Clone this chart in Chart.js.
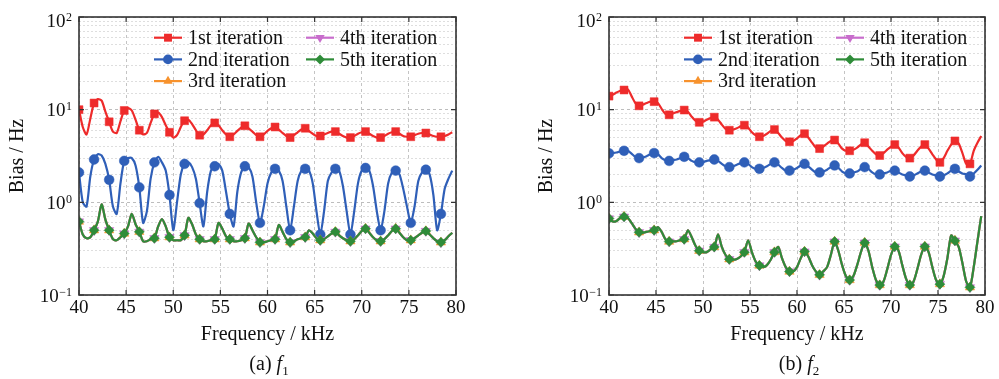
<!DOCTYPE html>
<html>
<head>
<meta charset="utf-8">
<title>Bias vs frequency, f1 and f2</title>
<script src="https://cdn.jsdelivr.net/npm/chart.js@4"></script>
<style>
  body { margin: 0; background: #fff; }
  .wrap { position: relative; width: 999px; height: 379px; }
  canvas { position: absolute; top: 0; }
  .cap {
    position: absolute; top: 352px; transform: translateX(-50%);
    font: 20px "Liberation Serif", "Times New Roman", serif; color: #111; white-space: nowrap;
  }
  .cap sub { font-size: 13px; }
</style>
</head>
<body>
<div class="wrap">
  <canvas id="chartA" width="500" height="379" style="left:0;width:500px;height:379px"></canvas>
  <canvas id="chartB" width="499" height="379" style="left:500px;width:499px;height:379px"></canvas>
  <div class="cap" style="left:269px">(a) <i>f</i><sub>1</sub></div>
  <div class="cap" style="left:799px">(b) <i>f</i><sub>2</sub></div>
</div>
<script>
// frequency grid (kHz), markers every 4th sample
const freq = [
  40.0, 40.4, 40.8, 41.2, 41.6, 42.0, 42.4, 42.8, 43.2, 43.6,
  44.0, 44.4, 44.8, 45.2, 45.6, 46.0, 46.4, 46.8, 47.2, 47.6,
  48.0, 48.4, 48.8, 49.2, 49.6, 50.0, 50.4, 50.8, 51.2, 51.6,
  52.0, 52.4, 52.8, 53.2, 53.6, 54.0, 54.4, 54.8, 55.2, 55.6,
  56.0, 56.4, 56.8, 57.2, 57.6, 58.0, 58.4, 58.8, 59.2, 59.6,
  60.0, 60.4, 60.8, 61.2, 61.6, 62.0, 62.4, 62.8, 63.2, 63.6,
  64.0, 64.4, 64.8, 65.2, 65.6, 66.0, 66.4, 66.8, 67.2, 67.6,
  68.0, 68.4, 68.8, 69.2, 69.6, 70.0, 70.4, 70.8, 71.2, 71.6,
  72.0, 72.4, 72.8, 73.2, 73.6, 74.0, 74.4, 74.8, 75.2, 75.6,
  76.0, 76.4, 76.8, 77.2, 77.6, 78.0, 78.4, 78.8, 79.2, 79.6
];

const seriesNames = ['1st iteration', '2nd iteration', '3rd iteration', '4th iteration', '5th iteration'];
const decadeValues = [0.1, 1, 10, 100];
const decadeExponents = ['\u22121', '0', '1', '2'];

// (a) f1
const f1First = [
  10, 6.5, 5.4, 8.0, 11.8, 13.0, 12.5, 9.5, 7.4, 5.8,
  5.6, 7.5, 9.8, 10.4, 9.8, 7.8, 6.0, 5.4, 5.6, 7.2,
  9.0, 9.3, 8.3, 6.8, 5.7, 5.0, 5.3, 6.5, 7.6, 7.8,
  7.0, 6.0, 5.3, 5.4, 6.0, 6.8, 7.2, 6.8, 6.0, 5.4,
  5.1, 5.4, 5.9, 6.4, 6.7, 6.3, 5.8, 5.3, 5.1, 5.4,
  5.9, 6.3, 6.5, 6.1, 5.6, 5.2, 5.0, 5.3, 5.7, 6.1,
  6.3, 5.9, 5.5, 5.2, 5.2, 5.4, 5.6, 5.8, 5.8, 5.5,
  5.2, 5.0, 5.0, 5.2, 5.5, 5.7, 5.8, 5.5, 5.2, 5.0,
  5.0, 5.2, 5.5, 5.7, 5.8, 5.5, 5.2, 5.1, 5.1, 5.3,
  5.5, 5.6, 5.6, 5.4, 5.2, 5.1, 5.1, 5.2, 5.4, 5.7
];
const f1Second = [
  2.1, 1.0, 0.9, 1.9, 2.9, 3.3, 3.2, 2.6, 1.75, 0.9,
  0.75, 1.6, 2.8, 3.0, 3.0, 2.5, 1.45, 0.6, 0.8, 1.8,
  2.7, 3.1, 2.7, 2.2, 1.2, 0.5, 1.0, 2.0, 2.6, 2.7,
  2.4, 1.8, 0.98, 0.55, 1.3, 2.2, 2.45, 2.6, 2.2, 1.3,
  0.75, 0.55, 1.3, 2.1, 2.45, 2.4, 1.9, 1.0, 0.6, 0.9,
  1.6, 2.1, 2.3, 2.2, 1.7, 0.9, 0.5, 0.9, 1.7, 2.2,
  2.3, 2.2, 1.6, 0.8, 0.45, 0.8, 1.7, 2.1, 2.3, 2.2,
  1.5, 0.8, 0.45, 0.8, 1.6, 2.2, 2.35, 2.2, 1.5, 0.8,
  0.5, 0.8, 1.6, 2.1, 2.2, 2.0, 1.4, 0.9, 0.6, 0.9,
  1.7, 2.1, 2.25, 2.0, 1.2, 0.5, 0.75, 1.4, 1.8, 2.2
];
const f1Fifth = [
  0.62, 0.45, 0.41, 0.42, 0.50, 0.62, 0.95, 0.65, 0.50, 0.40,
  0.39, 0.42, 0.46, 0.55, 0.75, 0.58, 0.48, 0.38, 0.38, 0.40,
  0.41, 0.55, 0.66, 0.55, 0.42, 0.39, 0.39, 0.39, 0.44, 0.68,
  0.58, 0.45, 0.40, 0.38, 0.38, 0.39, 0.40, 0.60, 0.52, 0.43,
  0.40, 0.38, 0.38, 0.39, 0.41, 0.59, 0.50, 0.42, 0.37, 0.37,
  0.38, 0.39, 0.40, 0.57, 0.48, 0.40, 0.37, 0.38, 0.40, 0.41,
  0.42, 0.50, 0.46, 0.41, 0.39, 0.40, 0.43, 0.46, 0.48, 0.44,
  0.41, 0.39, 0.38, 0.40, 0.44, 0.49, 0.52, 0.47, 0.42, 0.39,
  0.38, 0.40, 0.44, 0.49, 0.52, 0.47, 0.42, 0.39, 0.39, 0.41,
  0.44, 0.47, 0.49, 0.45, 0.41, 0.38, 0.37, 0.39, 0.43, 0.47
];
// 3rd and 4th iterations sit on top of the 5th in the picture
const f1Third = f1Fifth;
const f1Fourth = f1Fifth;

// (b) f2
const f2First = [
  14.0, 14.5, 15.3, 16.0, 16.3, 16.6, 14.0, 11.8, 11.0, 11.3,
  11.8, 12.2, 12.2, 11.8, 10.2, 9.0, 8.8, 9.1, 9.4, 9.7,
  9.9, 9.5, 8.4, 7.6, 7.3, 7.4, 7.8, 8.1, 8.3, 7.8,
  6.9, 6.2, 6.0, 6.1, 6.3, 6.6, 6.8, 6.4, 5.7, 5.3,
  5.1, 5.2, 5.5, 5.9, 6.1, 5.6, 5.0, 4.6, 4.5, 4.6,
  4.9, 5.3, 5.5, 5.0, 4.4, 3.9, 3.8, 4.0, 4.3, 4.6,
  4.7, 4.3, 3.8, 3.6, 3.6, 3.7, 3.9, 4.2, 4.4, 4.0,
  3.6, 3.3, 3.2, 3.4, 3.7, 4.0, 4.2, 3.9, 3.4, 3.1,
  3.0, 3.2, 3.6, 4.0, 4.2, 3.8, 3.3, 2.9, 2.7, 3.0,
  3.6, 4.2, 4.6, 4.3, 3.4, 2.6, 2.6, 3.6, 4.4, 5.2
];
const f2Second = [
  3.38, 3.4, 3.45, 3.55, 3.6, 3.6, 3.35, 3.1, 3.0, 3.05,
  3.15, 3.3, 3.4, 3.3, 3.0, 2.85, 2.8, 2.85, 2.9, 3.0,
  3.1, 3.0, 2.8, 2.7, 2.7, 2.72, 2.8, 2.85, 2.9, 2.8,
  2.6, 2.45, 2.4, 2.45, 2.55, 2.65, 2.7, 2.6, 2.4, 2.3,
  2.3, 2.35, 2.45, 2.6, 2.7, 2.55, 2.35, 2.2, 2.2, 2.25,
  2.35, 2.5, 2.6, 2.45, 2.25, 2.1, 2.1, 2.15, 2.25, 2.4,
  2.5, 2.35, 2.15, 2.05, 2.05, 2.1, 2.15, 2.3, 2.4, 2.3,
  2.1, 2.0, 2.0, 2.05, 2.1, 2.2, 2.2, 2.1, 2.0, 1.95,
  1.9, 1.95, 2.05, 2.15, 2.2, 2.1, 2.0, 1.95, 1.9, 1.95,
  2.05, 2.2, 2.3, 2.15, 2.05, 2.0, 1.9, 2.05, 2.25, 2.5
];
const f2Fifth = [
  0.67, 0.62, 0.63, 0.68, 0.70, 0.68, 0.60, 0.52, 0.475, 0.47,
  0.48, 0.49, 0.50, 0.54, 0.48, 0.40, 0.377, 0.38, 0.38, 0.39,
  0.40, 0.50, 0.42, 0.34, 0.30, 0.29, 0.29, 0.31, 0.33, 0.45,
  0.33, 0.27, 0.243, 0.24, 0.245, 0.26, 0.29, 0.39, 0.29, 0.23,
  0.208, 0.20, 0.21, 0.24, 0.29, 0.33, 0.25, 0.20, 0.179, 0.18,
  0.20, 0.25, 0.294, 0.26, 0.21, 0.18, 0.165, 0.18, 0.20, 0.27,
  0.377, 0.30, 0.21, 0.16, 0.145, 0.16, 0.21, 0.29, 0.367, 0.30,
  0.20, 0.145, 0.128, 0.14, 0.19, 0.27, 0.333, 0.30, 0.21, 0.15,
  0.128, 0.14, 0.19, 0.27, 0.333, 0.29, 0.20, 0.145, 0.131, 0.16,
  0.25, 0.44, 0.386, 0.33, 0.22, 0.14, 0.121, 0.20, 0.38, 0.71
];
const f2Third = f2Fifth;
const f2Fourth = f2Fifth;

const SERIF = '"Liberation Serif", "Times New Roman", serif';
Chart.defaults.font.family = SERIF;
Chart.defaults.color = '#111';

const look = [
  { color: '#ee2b2b', style: 'rect', rot: 0, r: 5.6 },
  { color: '#2f5fb8', style: 'circle', rot: 0, r: 4.9 },
  { color: '#f7922d', style: 'triangle', rot: 0, r: 5.4 },
  { color: '#c86dcc', style: 'triangle', rot: 180, r: 5.4 },
  { color: '#2f8c39', style: 'rectRot', rot: 0, r: 5 }
];

function isDecade(v) {
  const l = Math.log10(v);
  return Math.abs(l - Math.round(l)) < 1e-6;
}

function drawMarker(ctx, m, x, y) {
  ctx.save();
  ctx.fillStyle = m.color;
  ctx.beginPath();
  if (m.style === 'rect') {
    const s = m.r * Math.SQRT1_2;
    ctx.rect(x - s, y - s, 2 * s, 2 * s);
  } else if (m.style === 'circle') {
    ctx.arc(x, y, m.r, 0, Math.PI * 2);
  } else if (m.style === 'rectRot') {
    ctx.moveTo(x - m.r, y); ctx.lineTo(x, y - m.r); ctx.lineTo(x + m.r, y); ctx.lineTo(x, y + m.r);
    ctx.closePath();
  } else {
    const rad = m.rot * Math.PI / 180;
    for (let k = 0; k < 3; k++) {
      const a = rad + k * 2 * Math.PI / 3;
      const px = x + Math.sin(a) * m.r, py = y - Math.cos(a) * m.r;
      if (k === 0) ctx.moveTo(px, py); else ctx.lineTo(px, py);
    }
    ctx.closePath();
  }
  ctx.fill();
  ctx.restore();
}

// frame, inner ticks, y decade labels and the 2-column legend
const decorPlugin = {
  id: 'decor',
  afterDatasetsDraw(chart) {
    const { ctx, chartArea: a, scales } = chart;
    ctx.save();
    ctx.strokeStyle = '#333';
    ctx.lineWidth = 1.6;
    ctx.strokeRect(a.left, a.top, a.right - a.left, a.bottom - a.top);
    ctx.lineWidth = 1.2;
    ctx.beginPath();
    decadeValues.forEach(v => {
      const py = scales.y.getPixelForValue(v);
      ctx.moveTo(a.left, py); ctx.lineTo(a.left + 5, py);
      ctx.moveTo(a.right, py); ctx.lineTo(a.right - 5, py);
    });
    scales.x.ticks.forEach(t => {
      const px = scales.x.getPixelForValue(t.value);
      ctx.moveTo(px, a.bottom); ctx.lineTo(px, a.bottom - 5);
      ctx.moveTo(px, a.top); ctx.lineTo(px, a.top + 5);
    });
    ctx.stroke();

    // y labels as 10 with a raised exponent
    ctx.fillStyle = '#111';
    ctx.textBaseline = 'alphabetic';
    decadeValues.forEach((v, i) => {
      let py = scales.y.getPixelForValue(v);
      if (i === decadeValues.length - 1) py += 3;
      ctx.font = '12px ' + SERIF;
      ctx.textAlign = 'left';
      const exp = decadeExponents[i];
      const ew = ctx.measureText(exp).width;
      const ex = a.left - 7 - ew;
      ctx.fillText(exp, ex, py + 0.5);
      ctx.font = '19px ' + SERIF;
      ctx.textAlign = 'right';
      ctx.fillText('10', ex - 0.5, py + 6.5);
    });

    // legend
    const slots = [[0, 0], [0, 1], [0, 2], [1, 0], [1, 1]];
    const colX = [75, 227];
    ctx.font = '20px ' + SERIF;
    ctx.textAlign = 'left';
    ctx.textBaseline = 'middle';
    chart.data.datasets.forEach((ds, k) => {
      const [c, r] = slots[k];
      const x0 = a.left + colX[c];
      const yc = a.top + 20.7 + r * 21.7;
      ctx.strokeStyle = look[k].color;
      ctx.lineWidth = 2.2;
      ctx.beginPath(); ctx.moveTo(x0, yc); ctx.lineTo(x0 + 28, yc); ctx.stroke();
      drawMarker(ctx, look[k], x0 + 14, yc);
      ctx.fillStyle = '#111';
      ctx.fillText(ds.label, x0 + 34, yc + 1);
    });
    ctx.restore();
  }
};

function makeDatasets(series) {
  return series.map((vals, k) => ({
    label: seriesNames[k],
    data: freq.map((f, i) => ({ x: f, y: vals[i] })),
    borderColor: look[k].color,
    backgroundColor: look[k].color,
    pointBackgroundColor: look[k].color,
    pointBorderColor: look[k].color,
    pointBorderWidth: 0.5,
    pointStyle: look[k].style,
    pointRotation: look[k].rot,
    pointRadius: c => (c.dataIndex % 4 === 0 && c.dataIndex <= 96) ? look[k].r : 0,
    pointHoverRadius: 0,
    borderWidth: 2.2,
    tension: 0.25,
    fill: false,
    order: 4 - k
  }));
}

function makeChart(id, series, padLeft, padRight, yWidth) {
  return new Chart(document.getElementById(id), {
    type: 'line',
    data: { datasets: makeDatasets(series) },
    options: {
      responsive: false,
      animation: false,
      events: [],
      layout: { padding: { left: padLeft, right: padRight, top: 17, bottom: 0 } },
      plugins: { legend: { display: false }, tooltip: { enabled: false } },
      scales: {
        x: {
          type: 'linear', min: 40, max: 80,
          afterFit: s => { s.height = 84; },
          ticks: { stepSize: 5, autoSkip: false, maxRotation: 0, padding: 2,
                   font: { size: 19 }, color: '#111' },
          grid: { color: '#c4c4c4', lineWidth: 1, drawTicks: false },
          border: { display: false, dash: [3, 3] },
          title: { display: true, text: 'Frequency / kHz', font: { size: 20 },
                   color: '#111', padding: { top: 0, bottom: 32 } }
        },
        y: {
          type: 'logarithmic', min: 0.1, max: 100,
          afterFit: s => { s.width = yWidth; },
          ticks: { display: false },
          grid: {
            drawTicks: false, lineWidth: 1,
            color: c => (c.tick && isDecade(c.tick.value)) ? '#bdbdbd' : '#dedede'
          },
          border: {
            display: false,
            dash: c => (c.tick && isDecade(c.tick.value)) ? [3, 3] : [2, 2]
          },
          title: { display: true, text: 'Bias / Hz', font: { size: 20 },
                   color: '#111', padding: { top: 6, bottom: 0 } }
        }
      }
    },
    plugins: [decorPlugin]
  });
}

makeChart('chartA', [f1First, f1Second, f1Third, f1Fourth, f1Fifth], 0, 44, 79);
makeChart('chartB', [f2First, f2Second, f2Third, f2Fourth, f2Fifth], 29, 14, 80);
</script>
</body>
</html>
